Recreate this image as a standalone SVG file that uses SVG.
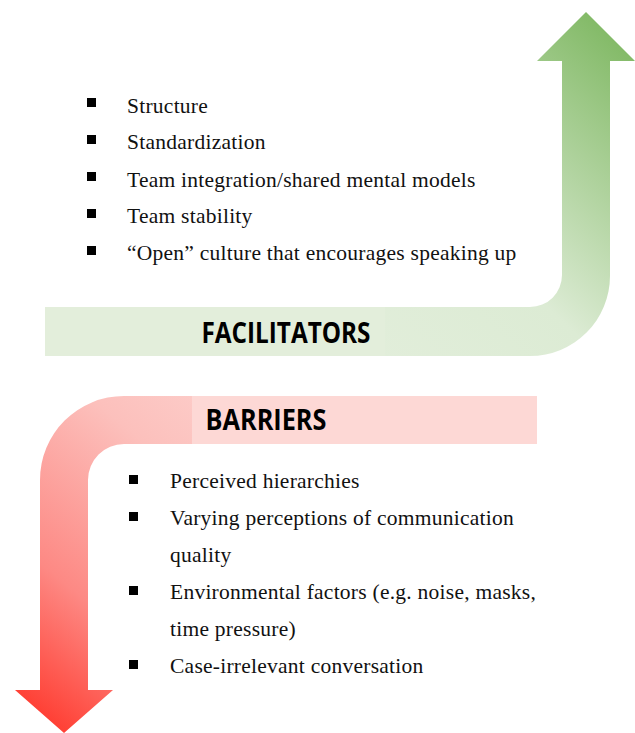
<svg xmlns="http://www.w3.org/2000/svg" width="635" height="733" viewBox="0 0 635 733">
  <style>
    .item { font-family: "Liberation Serif", "Times New Roman", serif; font-size: 21.5px; letter-spacing: 0.25px; fill: #111; }
    .title { font-family: "Open Sans", "Liberation Sans", Arial, sans-serif; font-weight: bold; font-size: 28px; fill: #000; }
    .bullet { fill: #000; }
  </style>
  <defs>
    <linearGradient id="greenGrad" gradientUnits="userSpaceOnUse" x1="300" y1="380" x2="640" y2="20">
      <stop offset="0" stop-color="#e4efdd"/>
      <stop offset="0.45" stop-color="#dcebd4"/>
      <stop offset="1" stop-color="#78b45a"/>
    </linearGradient>
    <linearGradient id="redGrad" gradientUnits="userSpaceOnUse" x1="330" y1="390" x2="40" y2="740">
      <stop offset="0" stop-color="#fdd8d5"/>
      <stop offset="0.35" stop-color="#fcc0bc"/>
      <stop offset="0.7" stop-color="#fd8984"/>
      <stop offset="1" stop-color="#ff3327"/>
    </linearGradient>
  </defs>

  <!-- upward bent arrow -->
  <g id="facilitators-arrow">
    <path fill="url(#greenGrad)" d="M45,307 L530,307 A32,32 0 0 0 562,275 L562,61 L537,61 L586,12 L635,61 L610,61 L610,276 A80,80 0 0 1 530,356 L45,356 Z"/>
    <rect x="45" y="307" width="340" height="49" fill="#e3eedb"/>
    <text class="title" x="286" y="343" text-anchor="middle" textLength="169" lengthAdjust="spacingAndGlyphs">FACILITATORS</text>
  </g>

  <!-- downward bent arrow -->
  <g id="barriers-arrow">
    <path fill="url(#redGrad)" d="M537,396 L124,396 A84,84 0 0 0 40,480 L40,690 L15,690 L64,733 L113,690 L88,690 L88,480 A36,36 0 0 1 124,444 L537,444 Z"/>
    <rect x="192" y="396" width="345" height="48" fill="#fdd8d5"/>
    <text class="title" x="266" y="430" text-anchor="middle" textLength="121" lengthAdjust="spacingAndGlyphs">BARRIERS</text>
  </g>

  <!-- facilitating factors -->
  <g id="facilitators-list">
    <rect class="bullet" x="87" y="98" width="9" height="9"/>
    <text class="item" x="127" y="113">Structure</text>
    <rect class="bullet" x="87" y="135" width="9" height="9"/>
    <text class="item" x="127" y="149">Standardization</text>
    <rect class="bullet" x="87" y="172" width="9" height="9"/>
    <text class="item" x="127" y="187">Team integration/shared mental models</text>
    <rect class="bullet" x="87" y="209" width="9" height="9"/>
    <text class="item" x="127" y="223">Team stability</text>
    <rect class="bullet" x="87" y="246" width="9" height="9"/>
    <text class="item" x="127" y="260">“Open” culture that encourages speaking up</text>
  </g>

  <!-- barrier factors -->
  <g id="barriers-list">
    <rect class="bullet" x="129" y="475" width="9" height="9"/>
    <text class="item" x="170" y="488">Perceived hierarchies</text>
    <rect class="bullet" x="129" y="512" width="9" height="9"/>
    <text class="item" x="170" y="525">Varying perceptions of communication</text>
    <text class="item" x="170" y="562">quality</text>
    <rect class="bullet" x="129" y="586" width="9" height="9"/>
    <text class="item" x="170" y="599">Environmental factors (e.g. noise, masks,</text>
    <text class="item" x="170" y="636">time pressure)</text>
    <rect class="bullet" x="129" y="660" width="9" height="9"/>
    <text class="item" x="170" y="673">Case-irrelevant conversation</text>
  </g>
</svg>
